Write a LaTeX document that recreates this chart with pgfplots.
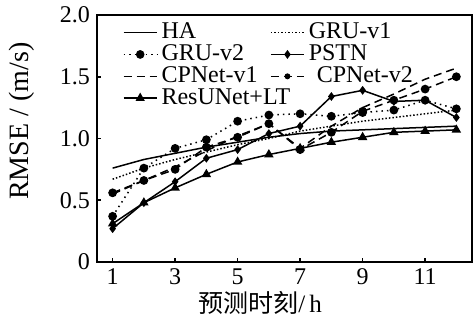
\documentclass[border=0pt]{standalone}
\usepackage{fontspec}
\setmainfont{Liberation Serif}
\newfontfamily\cjk{Noto Sans CJK SC}
\usepackage{pgfplots}
\pgfplotsset{compat=1.18}
\begin{document}
\begin{tikzpicture}
\begin{axis}[
  name=ax,
  scale only axis,
  width=187.5pt, height=123.5pt,
  xmin=0.5, xmax=12.5, ymin=0, ymax=2,
  xtick={1,3,5,7,9,11},
  ytick={0,0.5,1,1.5,2},
  yticklabels={0,0.5,1.0,1.5,2.0},
  tick pos=left, tick align=inside,
  major tick length=2pt,
  axis line style={line width=1pt},
  every tick/.style={black, line width=0.8pt},
  /pgf/number format/assume math mode=true,
  ticklabel style={font=\fontsize{12}{14}\selectfont},
  xlabel={{\cjk 预测时刻}/\,h},
  ylabel={RMSE / (m/s)},
  xlabel style={font=\fontsize{12.5}{14}\selectfont, at={(axis description cs:0.435,-0.166)}, anchor=center},
  ylabel style={font=\fontsize{14}{14}\selectfont, at={(axis description cs:-0.2,0.57)}, anchor=center},
  legend columns=2,
  legend cell align=left,
  legend style={at={(0.068,0.985)}, anchor=north west, draw=none, fill=none,
    inner sep=0pt,
    font=\fontsize{12}{12}\selectfont, row sep=-2.5pt,
    /tikz/every even column/.append style={column sep=-12pt}},
  legend image post style={xscale=0.97},
  every axis plot/.append style={black, line width=0.75pt},
]
\addplot[solid, no markers] coordinates {(1,0.76)(2,0.83)(3,0.88)(4,0.93)(5,0.97)(6,1.01)(7,1.04)(8,1.06)(9,1.07)(10,1.08)(11,1.09)(12,1.10)};
\addlegendentry{HA}
\addplot[densely dotted, no markers] coordinates {(1,0.67)(2,0.76)(3,0.83)(4,0.89)(5,0.95)(6,1.00)(7,1.06)(8,1.10)(9,1.14)(10,1.17)(11,1.20)(12,1.23)};
\addlegendentry{GRU-v1}
\addplot[dotted, mark=*, mark size=1.8pt, mark options={solid}] coordinates {(1,0.37)(2,0.76)(3,0.92)(4,0.99)(5,1.14)(6,1.19)(7,1.20)(8,1.18)(9,1.21)(10,1.23)(11,1.31)(12,1.24)};
\addlegendentry{GRU-v2}
\addplot[solid, mark=diamond*, mark size=1.6pt] coordinates {(1,0.27)(2,0.48)(3,0.65)(4,0.84)(5,0.91)(6,1.04)(7,1.10)(8,1.34)(9,1.39)(10,1.30)(11,1.31)(12,1.17)};
\addlegendentry{PSTN}
\addplot[dash pattern=on 4pt off 2.5pt, no markers] coordinates {(1,0.55)(2,0.66)(3,0.77)(4,0.90)(5,1.02)(6,1.12)(7,0.92)(8,1.10)(9,1.25)(10,1.36)(11,1.48)(12,1.57)};
\addlegendentry{CPNet-v1}
\addplot[dash pattern=on 4pt off 2.5pt, mark=*, mark size=1.8pt, mark options={solid}, legend image post style={mark size=1.1pt}] coordinates {(1,0.56)(2,0.66)(3,0.75)(4,0.93)(5,1.01)(6,1.12)(7,0.91)(8,1.05)(9,1.22)(10,1.31)(11,1.40)(12,1.50)};
\addlegendentry{\hspace{4pt}CPNet-v2}
\addplot[solid, mark=triangle*, mark size=2pt] coordinates {(1,0.31)(2,0.48)(3,0.60)(4,0.71)(5,0.81)(6,0.87)(7,0.92)(8,0.97)(9,1.01)(10,1.05)(11,1.06)(12,1.07)};
\addlegendentry{ResUNet+LT}
\end{axis}
\pgfresetboundingbox
\path[use as bounding box] ([shift={(-48.5pt,-31.5pt)}]ax.south west) rectangle ([shift={(0.5pt,7.5pt)}]ax.north east);
\end{tikzpicture}
\end{document}
